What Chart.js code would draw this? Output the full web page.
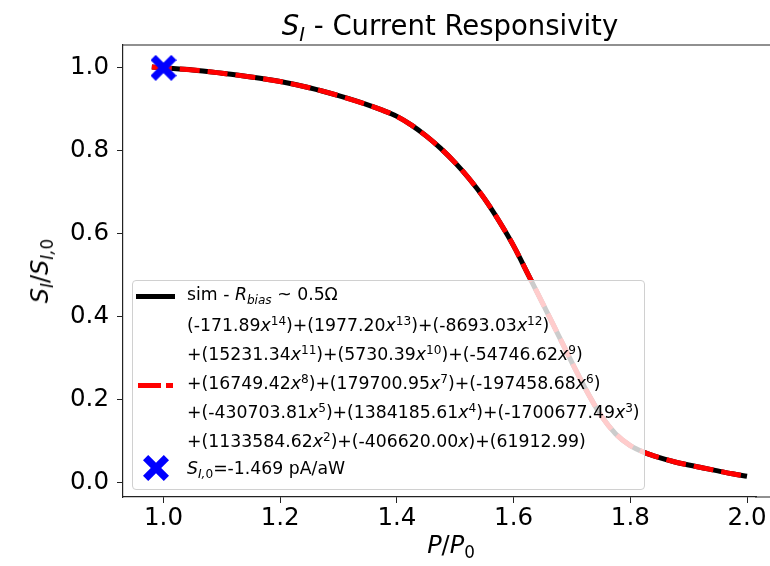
<!DOCTYPE html>
<html lang="en">
<head>
    <meta charset="UTF-8">
    <title>S_I - Current Responsivity</title>
    <script src="https://cdn.jsdelivr.net/npm/chart.js"></script>
    <style>
        html, body { margin: 0; width: 770px; height: 566px; overflow: hidden; background: #fff;
                     font-family: "DejaVu Sans", sans-serif; color: #000; }
        #chart { position: absolute; left: 0; top: 0; }
        .lbl { position: absolute; white-space: nowrap; }
        #title { left: 450px; top: 9px; transform: translateX(-50%); font-size: 27.5px; }
        #xlabel { left: 451px; top: 531px; transform: translateX(-50%); font-size: 24px; }
        #ylabel { left: 40px; top: 271px; transform: translate(-50%, -50%) rotate(-90deg); font-size: 24px; }
        #legend { position: absolute; left: 132px; top: 280px; width: 511px; height: 208px;
                  border: 1px solid #d0d0d0; border-radius: 4px; background: rgba(255,255,255,0.8);
                  font-size: 17.3px; }
        #legend .row { position: absolute; left: 54px; white-space: nowrap; }
        #legend sup { font-size: 70%; vertical-align: 0.5em; line-height: 0; }
        .hl { position: absolute; height: 5px; }
        sub { font-size: 70%; vertical-align: -0.3em; line-height: 0; }
    </style>
</head>
<body>
    <canvas id="chart" width="770" height="566"></canvas>
    <div class="lbl" id="title"><i>S<sub>I</sub></i> - Current Responsivity</div>
    <div class="lbl" id="xlabel"><i>P</i>/<i>P</i><sub>0</sub></div>
    <div class="lbl" id="ylabel"><i>S<sub>I</sub></i>/<i>S<sub>I,</sub></i><sub>0</sub></div>
    <div id="legend">
        <div class="hl" style="left:3px; top:13px; width:39px; background:#000;"></div>
        <div class="row" style="top:3px;">sim - <i>R<sub>bias</sub></i> ~ 0.5Ω</div>
        <div class="hl" style="left:5px; top:102px; width:23px; background:#f00;"></div>
        <div class="hl" style="left:33px; top:102px; width:7px; background:#f00;"></div>
        <div class="row" style="top:34px;">(-171.89<i>x</i><sup>14</sup>)+(1977.20<i>x</i><sup>13</sup>)+(-8693.03<i>x</i><sup>12</sup>)</div>
        <div class="row" style="top:63px;">+(15231.34<i>x</i><sup>11</sup>)+(5730.39<i>x</i><sup>10</sup>)+(-54746.62<i>x</i><sup>9</sup>)</div>
        <div class="row" style="top:92px;">+(16749.42<i>x</i><sup>8</sup>)+(179700.95<i>x</i><sup>7</sup>)+(-197458.68<i>x</i><sup>6</sup>)</div>
        <div class="row" style="top:121px;">+(-430703.81<i>x</i><sup>5</sup>)+(1384185.61<i>x</i><sup>4</sup>)+(-1700677.49<i>x</i><sup>3</sup>)</div>
        <div class="row" style="top:150px;">+(1133584.62<i>x</i><sup>2</sup>)+(-406620.00<i>x</i>)+(61912.99)</div>
        <svg style="position:absolute; left:10px; top:174px;" width="26" height="26" viewBox="-1 -1 2 2">
            <polygon fill="#00f" points="-1,-0.6 -0.6,-1 0,-0.4 0.6,-1 1,-0.6 0.4,0 1,0.6 0.6,1 0,0.4 -0.6,1 -1,0.6 -0.4,0"/>
        </svg>
        <div class="row" style="top:177px;"><i>S<sub>I,</sub></i><sub>0</sub>=-1.469 pA/aW</div>
    </div>
    <script>
        // P/P0 along the simulated curve, and normalised responsivity
        const pRatio = [0.98, 1.00, 1.05, 1.10, 1.15, 1.20, 1.25, 1.30, 1.35, 1.375, 1.40, 1.425, 1.45, 1.475, 1.50,
                        1.525, 1.55, 1.575, 1.60, 1.625, 1.65, 1.675, 1.70, 1.725, 1.75, 1.775, 1.80, 1.825, 1.85,
                        1.875, 1.90, 1.925, 1.95, 1.975, 2.00];
        const simResp = [1.002, 1.000, 0.995, 0.987, 0.978, 0.967, 0.952, 0.933, 0.911, 0.898, 0.883, 0.862, 0.836, 0.806, 0.771,
                         0.731, 0.685, 0.631, 0.571, 0.502, 0.432, 0.361, 0.290, 0.222, 0.162, 0.118, 0.090, 0.073, 0.061,
                         0.051, 0.043, 0.036, 0.029, 0.022, 0.016];
        // 14th order polynomial fit - sits right on top of the simulation
        const fitResp = [1.002, 1.000, 0.995, 0.987, 0.978, 0.967, 0.952, 0.933, 0.911, 0.898, 0.883, 0.862, 0.836, 0.806, 0.771,
                         0.731, 0.685, 0.631, 0.571, 0.502, 0.432, 0.361, 0.290, 0.222, 0.162, 0.118, 0.090, 0.073, 0.061,
                         0.051, 0.043, 0.036, 0.029, 0.022, 0.016];
        const refPoint = [1.0, 1.0];
        const xTicks = [1.0, 1.2, 1.4, 1.6, 1.8, 2.0];
        const yTicks = [0.0, 0.2, 0.4, 0.6, 0.8, 1.0];

        // pixel spots of the first/last x tick in the original figure
        const X_TICK_PX = { at1: 163.5, at2: 747 };

        // filled "X" marker like matplotlib's 'X'
        function makeXMarker(size, color) {
            const c = document.createElement('canvas');
            c.width = size; c.height = size;
            const g = c.getContext('2d');
            const h = size / 2;
            const pts = [[-1,-0.6],[-0.6,-1],[0,-0.4],[0.6,-1],[1,-0.6],[0.4,0],[1,0.6],[0.6,1],[0,0.4],[-0.6,1],[-1,0.6],[-0.4,0]];
            g.fillStyle = color;
            g.beginPath();
            pts.forEach((p, i) => {
                const x = h + p[0] * h, y = h + p[1] * h;
                if (i === 0) g.moveTo(x, y); else g.lineTo(x, y);
            });
            g.closePath();
            g.fill();
            return c;
        }

        // top spine, and carry both spines on to the window edge (the box is cut off there)
        const spines = {
            id: 'spines',
            afterDraw(chart) {
                const a = chart.chartArea, ctx = chart.ctx;
                ctx.save();
                ctx.strokeStyle = '#222';
                ctx.lineWidth = 1.2;
                ctx.beginPath();
                ctx.moveTo(a.left, a.top);
                ctx.lineTo(chart.width, a.top);
                ctx.moveTo(a.right - 1, a.bottom);
                ctx.lineTo(chart.width, a.bottom);
                ctx.stroke();
                ctx.restore();
            }
        };

        const tickFont = { family: 'DejaVu Sans', size: 24.5 };

        const chart = new Chart(document.getElementById('chart'), {
            type: 'line',
            data: {
                datasets: [
                    {
                        label: 'S_I,0',
                        data: [{ x: refPoint[0], y: refPoint[1] }],
                        showLine: false,
                        pointStyle: makeXMarker(26, '#0000ff'),
                        pointRadius: 13,
                        order: 0
                    },
                    {
                        label: 'fit',
                        data: pRatio.map((x, i) => ({ x, y: fitResp[i] })),
                        borderColor: '#ff0000',
                        borderWidth: 5,
                        borderDash: [20, 8],
                        borderCapStyle: 'butt',
                        pointRadius: 0,
                        cubicInterpolationMode: 'monotone',
                        order: 1
                    },
                    {
                        label: 'sim',
                        data: pRatio.map((x, i) => ({ x, y: simResp[i] })),
                        borderColor: '#000000',
                        borderWidth: 5,
                        pointRadius: 0,
                        cubicInterpolationMode: 'monotone',
                        order: 2
                    }
                ]
            },
            options: {
                responsive: false,
                animation: false,
                layout: { padding: { top: 45, right: 0, left: 0, bottom: 0 } },
                plugins: { legend: { display: false }, tooltip: { enabled: false } },
                scales: {
                    x: {
                        type: 'linear',
                        min: 0.9306, max: 2.0394,
                        afterBuildTicks: s => { s.ticks = xTicks.map(v => ({ value: v })); },
                        afterFit: s => { s.height = 69; },
                        ticks: { font: tickFont, color: '#000', padding: 1, maxRotation: 0,
                                 callback: v => v.toFixed(1) },
                        grid: { drawOnChartArea: false, drawTicks: true, tickLength: 6, color: '#222' },
                        border: { color: '#222', width: 1.2 }
                    },
                    y: {
                        type: 'linear',
                        min: -0.034, max: 1.055,
                        afterBuildTicks: s => { s.ticks = yTicks.map(v => ({ value: v })); },
                        afterFit: s => { s.width = 123; },
                        ticks: { font: tickFont, color: '#000', padding: 8,
                                 callback: v => v.toFixed(1) },
                        grid: { drawOnChartArea: false, drawTicks: true, tickLength: 6, color: '#222' },
                        border: { color: '#222', width: 1.2 }
                    }
                }
            },
            plugins: [spines]
        });

        // Chart.js keeps a little room at the right; stretch the x range so ticks land where they did
        const a = chart.chartArea;
        const pxPerUnit = (X_TICK_PX.at2 - X_TICK_PX.at1) / (xTicks[xTicks.length - 1] - xTicks[0]);
        const xMin = xTicks[0] - (X_TICK_PX.at1 - a.left) / pxPerUnit;
        chart.options.scales.x.min = xMin;
        chart.options.scales.x.max = xMin + (a.right - a.left) / pxPerUnit;
        chart.update();
    </script>
</body>
</html>
